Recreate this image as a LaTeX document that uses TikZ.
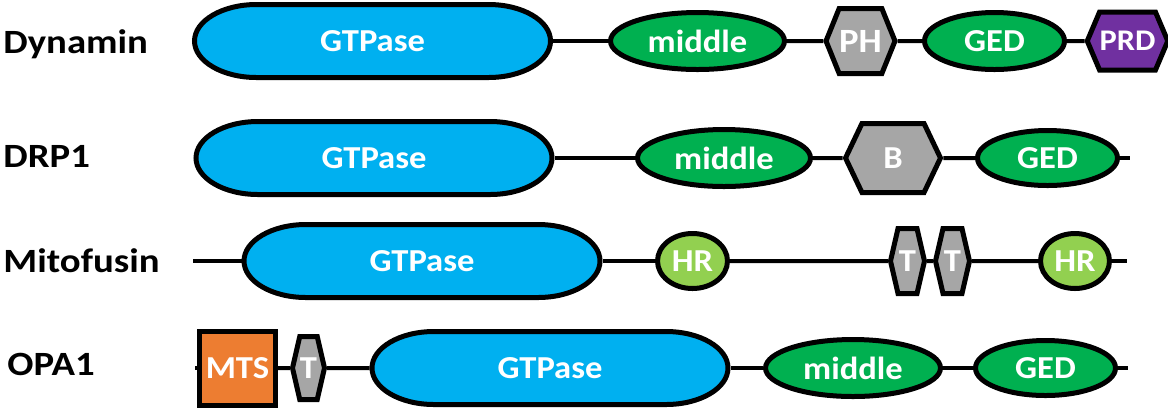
\documentclass[tikz,border=0pt]{standalone}
\usepackage{fontspec}
\setmainfont{Carlito}[FakeStretch=1.08]
\newfontfamily\protfont{Carlito}[FakeStretch=1.14]
\usetikzlibrary{shapes.geometric,shapes.symbols}

\definecolor{gtpblue}{HTML}{00B0F0}
\definecolor{domgreen}{HTML}{00B050}
\definecolor{hrgreen}{HTML}{92D050}
\definecolor{domgrey}{HTML}{A6A6A6}
\definecolor{mtsorange}{HTML}{ED7D31}
\definecolor{prdpurple}{HTML}{7030A0}

% GTPase body: a bar with elliptic ends, centred at (#1,#2)
\newcommand{\gtpbody}[2]{%
  \filldraw[draw=black,fill=gtpblue,line width=2.5pt]
    (#1-116,#2-36.5) -- (#1+116,#2-36.5)
    arc[start angle=90,end angle=-90,x radius=31pt,y radius=18.25pt]
    -- (#1-116,#2+36.5)
    arc[start angle=270,end angle=90,x radius=31pt,y radius=18.25pt] -- cycle;}

\begin{document}
\begin{tikzpicture}[x=0.5pt,y=-0.5pt,
  prot/.style={anchor=base west,inner sep=0pt,font=\protfont\fontsize{17}{17}\selectfont\bfseries},
  dom/.style={draw=black,line width=2.5pt,inner sep=0pt,text=white,font=\fontsize{16}{16}\selectfont\bfseries},
  pill/.style={rectangle,inner sep=0pt,outer sep=1.25pt,text=white,font=\fontsize{16}{16}\selectfont\bfseries,
    minimum width=178pt,minimum height=36.5pt},
  oval/.style={dom,ellipse,fill=domgreen,minimum height=28.5pt},
  hexa/.style={dom,signal,signal to=east and west,fill=domgrey},
  link/.style={line width=2pt}]
\useasboundingbox (0,0) rectangle (1168,409);

% Dynamin
\node[prot] (dyn) at (3,53) {Dynamin};
\gtpbody{372.5}{41}
\node[pill] (gtp1) at (372.5,41) {GTPase};
\node[oval,minimum width=87pt] (mid1) at (697.5,41) {middle};
\node[hexa,signal pointer angle=136,minimum width=30pt,minimum height=32.5pt,
  font=\fontsize{17}{17}\selectfont\bfseries] (ph) at (860.5,41) {PH};
\node[oval,minimum width=70pt] (ged1) at (994.5,41) {GED};
\node[hexa,fill=prdpurple,signal pointer angle=134,minimum width=37pt,minimum height=29pt,
  font=\fontsize{15}{15}\selectfont\bfseries] (prd) at (1127.5,41) {PRD};
\draw[link] (gtp1) -- (mid1);
\draw[link] (mid1) -- (ph);
\draw[link] (ph) -- (ged1);
\draw[link] (ged1) -- (prd);

% DRP1
\node[prot] (drp) at (3,167) {DRP1};
\gtpbody{374}{158}
\node[pill] (gtp2) at (374,158) {GTPase};
\node[oval,minimum width=86.5pt] (mid2) at (724,158) {middle};
\node[hexa,signal pointer angle=129,minimum width=47.5pt,minimum height=34.5pt] (bdom) at (893,158) {B};
\node[oval,minimum width=70pt,minimum height=27.5pt] (ged2) at (1047.5,158) {GED};
\coordinate (drpend) at (1130,158);
\draw[link] (gtp2) -- (mid2);
\draw[link] (mid2) -- (bdom);
\draw[link] (bdom) -- (ged2);
\draw[link] (ged2) -- (drpend);

% Mitofusin
\node[prot] (mfn) at (3,272) {Mitofusin};
\coordinate (mfnstart) at (193,261);
\gtpbody{422}{261}
\node[pill] (gtp3) at (422,261) {GTPase};
\node[oval,fill=hrgreen,minimum width=35pt,minimum height=27.5pt] (hr1) at (692.5,261) {HR};
\node[hexa,signal pointer angle=154,minimum width=17pt,minimum height=32.5pt] (tm1) at (907.5,261) {T};
\node[hexa,signal pointer angle=154,minimum width=17pt,minimum height=32.5pt] (tm2) at (952.5,261) {T};
\node[oval,fill=hrgreen,minimum width=34.5pt,minimum height=27.5pt] (hr2) at (1075,261) {HR};
\coordinate (mfnend) at (1127,261);
\draw[link] (mfnstart) -- (gtp3);
\draw[link] (gtp3) -- (hr1);
\draw[link] (hr1) -- (tm1);
\draw[link] (tm1) -- (tm2);
\draw[link] (tm2) -- (hr2);
\draw[link] (hr2) -- (mfnend);

% OPA1
\node[prot] (opa) at (7,375) {OPA1};
\coordinate (opastart) at (195,368);
\node[dom,rectangle,fill=mtsorange,minimum width=38pt,minimum height=37pt] (mts) at (237.5,368) {MTS};
\node[hexa,signal pointer angle=154,minimum width=16pt,minimum height=31.5pt] (tm3) at (308.5,368) {T};
\gtpbody{550}{368}
\node[pill] (gtp4) at (550,368) {GTPase};
\node[oval,minimum width=87.5pt] (mid4) at (853,368) {middle};
\node[oval,minimum width=70pt,minimum height=27.5pt] (ged4) at (1045.5,368) {GED};
\coordinate (opaend) at (1128,368);
\draw[link] (opastart) -- (mts);
\draw[link] (mts) -- (tm3);
\draw[link] (tm3) -- (gtp4);
\draw[link] (gtp4) -- (mid4);
\draw[link] (mid4) -- (ged4);
\draw[link] (ged4) -- (opaend);
\end{tikzpicture}
\end{document}
